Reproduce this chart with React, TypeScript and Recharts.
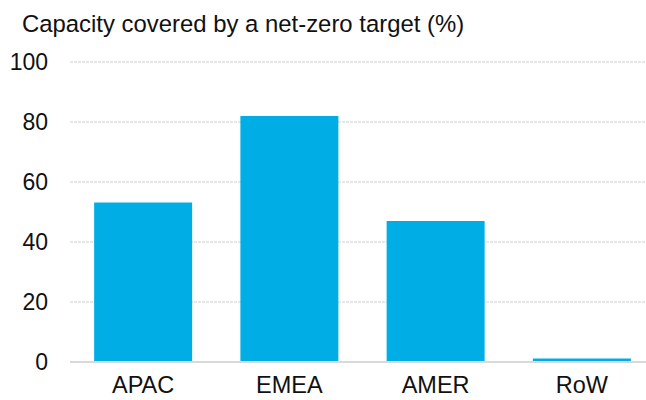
import { BarChart, Bar, XAxis, YAxis, CartesianGrid, ReferenceLine } from "recharts";

const regions = ["APAC", "EMEA", "AMER", "RoW"];
const coverage = [53.2, 82, 47, 1.2];
const yTicks = [0, 20, 40, 60, 80, 100];

const data = regions.map((region, i) => ({ region, coverage: coverage[i] }));

const FONT = "'Liberation Sans', Arial, sans-serif";

export default function App() {
  return (
    <div style={{ position: "absolute", left: 0, top: 0, width: 646, height: 400, overflow: "hidden", background: "#fff" }}>
      <svg width={646} height={40} style={{ position: "absolute", left: 0, top: 0 }}>
        <text x={22} y={32} fontFamily={FONT} fontSize={23.9} fill="#111">
          Capacity covered by a net-zero target (%)
        </text>
      </svg>
      <BarChart
        width={655}
        height={400}
        data={data}
        margin={{ top: 62, right: 0, left: 0, bottom: 0 }}
        barCategoryGap="16.5%"
      >
        <CartesianGrid vertical={false} stroke="#cfcfcf" strokeDasharray="3 1" />
        <XAxis
          dataKey="region"
          height={38}
          tickLine={false}
          axisLine={false}
          tickSize={0}
          tickMargin={14}
          tick={{ fontSize: 23.5, fill: "#111", fontFamily: FONT }}
        />
        <YAxis
          width={70}
          domain={[0, 100]}
          ticks={yTicks}
          tickLine={false}
          axisLine={false}
          tickSize={0}
          tickMargin={22}
          tick={{ fontSize: 23, fill: "#111", fontFamily: FONT }}
        />
        <Bar dataKey="coverage" fill="#00AEE5" isAnimationActive={false} />
        <ReferenceLine y={0} stroke="#d9d9d9" strokeWidth={2} />
      </BarChart>
    </div>
  );
}
